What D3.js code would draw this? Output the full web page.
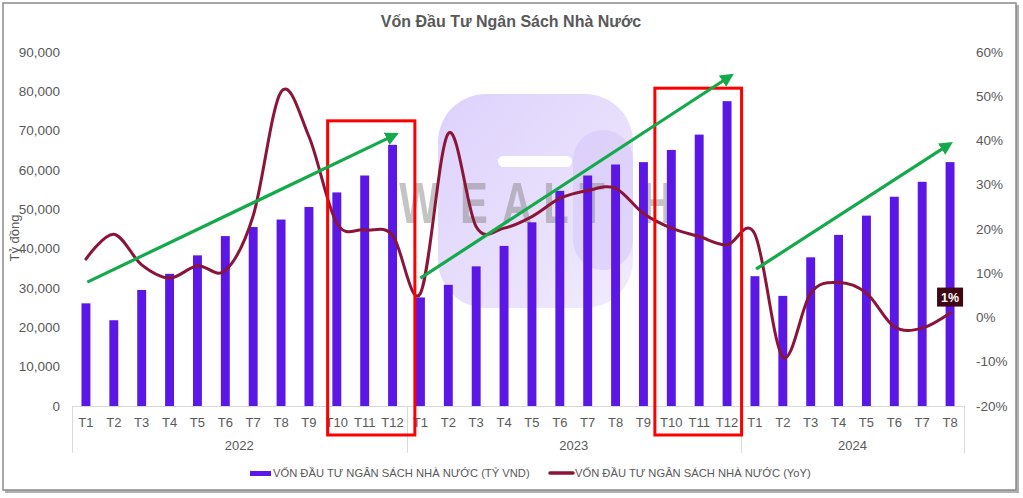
<!DOCTYPE html>
<html>
<head>
<meta charset="utf-8">
<script src="https://cdn.jsdelivr.net/npm/d3@7"></script>
<style>
  html, body { margin: 0; padding: 0; background: #fff; }
  svg { display: block; font-family: "Liberation Sans", Arial, sans-serif; }
</style>
</head>
<body>
<svg id="chart" width="1023" height="498"></svg>
<script>
// ---------- DATA ----------
const years = ["2022", "2023", "2024"];
const months = [
  "T1","T2","T3","T4","T5","T6","T7","T8","T9","T10","T11","T12",
  "T1","T2","T3","T4","T5","T6","T7","T8","T9","T10","T11","T12",
  "T1","T2","T3","T4","T5","T6","T7","T8"
];
const yearOfMonth = [
  0,0,0,0,0,0,0,0,0,0,0,0,
  1,1,1,1,1,1,1,1,1,1,1,1,
  2,2,2,2,2,2,2,2
];
// Vốn đầu tư NSNN (tỷ VND)
const capital = [
  26100, 21800, 29500, 33600, 38300, 43200, 45500, 47400, 50600, 54300, 58600, 66400,
  27600, 30800, 35500, 40700, 46700, 54700, 58600, 61400, 62000, 65100, 69000, 77500,
  33000, 28000, 37800, 43500, 48400, 53200, 57000, 62000
];
// YoY (%)
const yoy = [
  13.2, 18.8, 11.9, 8.9, 11.7, 10.6, 23.0, 51.0, 40.9, 21.3, 19.8, 18.6,
  5.5, 41.6, 20.5, 20.2, 22.8, 26.9, 28.7, 29.2, 23.5, 20.2, 18.3, 16.4,
  18.8, -8.9, 5.5, 7.9, 5.5, -2.1, -2.4, 1.0
];
const leftTicks = [0, 10000, 20000, 30000, 40000, 50000, 60000, 70000, 80000, 90000];
const rightTicks = [-20, -10, 0, 10, 20, 30, 40, 50, 60];
const title = "Vốn Đầu Tư Ngân Sách Nhà Nước";
const leftAxisTitle = "Tỷ đồng";
const legendLabels = ["VỐN ĐẦU TƯ NGÂN SÁCH NHÀ NƯỚC (TỶ VND)", "VỐN ĐẦU TƯ NGÂN SÁCH NHÀ NƯỚC (YoY)"];
// Annotations (in fractional category index / left-axis value units)
const arrows = [
  { x0: 0.05, v0: 31500, x1: 11.05, v1: 68800 },
  { x0: 12.0, v0: 32500, x1: 23.08, v1: 83700 },
  { x0: 24.04, v0: 34800, x1: 30.94, v1: 66400 }
];
const boxes = [
  { x0: 8.67, x1: 11.80, vTop: 72500 },
  { x0: 20.41, x1: 23.52, vTop: 80800 }
];

// ---------- STYLE ----------
const C_BAR = "#5b17e6";
const C_LINE = "#8b1538";
const C_GREEN = "#14a94b";
const C_TEXT = "#595959";

const svg = d3.select("#chart");
const plot = { left: 72, right: 964, top: 52, bottom: 406 };

// frame with shadow
svg.append("rect").attr("x", 5).attr("y", 5).attr("width", 1014).attr("height", 488)
  .attr("fill", "#b0b0b0");
svg.append("rect").attr("x", 3).attr("y", 3).attr("width", 1013).attr("height", 487)
  .attr("fill", "#fff").attr("stroke", "#8a8a8a").attr("stroke-width", 1.5);

// scales
const x = d3.scaleBand().domain(d3.range(months.length))
  .range([plot.left, plot.right]).paddingInner(0.68).paddingOuter(0.34);
const step = x.step();
const xc = i => x(Math.floor(i)) + x.bandwidth() / 2 + (i - Math.floor(i)) * step;
const yL = d3.scaleLinear().domain([0, 90000]).range([plot.bottom, plot.top]);
const yR = d3.scaleLinear().domain([-20, 60]).range([plot.bottom, plot.top]);

// title
svg.append("text").attr("x", 511).attr("y", 27).attr("text-anchor", "middle")
  .attr("font-size", 16).attr("font-weight", "bold").attr("fill", C_TEXT).text(title);

// watermark (logo + WEALTH)
const defs = svg.append("defs");
const wm = svg.append("g").attr("class", "watermark");
const grad = defs.append("linearGradient").attr("id", "wmg")
  .attr("x1", "0").attr("y1", "0").attr("x2", "1").attr("y2", "1");
grad.append("stop").attr("offset", "0").attr("stop-color", "#ddd1fb");
grad.append("stop").attr("offset", "1").attr("stop-color", "#f1ebfe");
wm.append("rect").attr("x", 438).attr("y", 94).attr("width", 195).attr("height", 214)
  .attr("rx", 48).attr("fill", "url(#wmg)");
wm.append("rect").attr("x", 573).attr("y", 130).attr("width", 60).attr("height", 140)
  .attr("rx", 30).attr("fill", "#d6c8f9").attr("opacity", 0.6);
wm.append("rect").attr("x", 498).attr("y", 156).attr("width", 74).attr("height", 11)
  .attr("rx", 5.5).attr("fill", "#fff");
const wmLetters = ["W", "E", "A", "L", "T", "H"];
const wmCenters = [419, 474, 517, 556, 592, 657];
wmLetters.forEach((ch, k) => {
  wm.append("text").attr("transform", `translate(${wmCenters[k]},223) scale(0.72,1)`)
    .attr("text-anchor", "middle").attr("font-size", 58).attr("font-weight", "bold")
    .attr("fill", "#8a8a8a").attr("opacity", 0.5).text(ch);
});

// left axis labels
svg.append("g").selectAll("text").data(leftTicks).join("text")
  .attr("x", 60).attr("y", d => yL(d)).attr("dy", "0.35em").attr("text-anchor", "end")
  .attr("font-size", 13.5).attr("fill", C_TEXT).text(d => d3.format(",")(d));
// right axis labels
svg.append("g").selectAll("text").data(rightTicks).join("text")
  .attr("x", 976).attr("y", d => yR(d)).attr("dy", "0.35em").attr("text-anchor", "start")
  .attr("font-size", 13.5).attr("fill", C_TEXT).text(d => d + "%");
// left axis title
svg.append("text").attr("transform", "translate(19,238) rotate(-90)")
  .attr("text-anchor", "middle").attr("font-size", 13).attr("fill", C_TEXT).text(leftAxisTitle);

// x axis line and group separators
svg.append("line").attr("x1", plot.left).attr("x2", plot.right)
  .attr("y1", plot.bottom + 0.5).attr("y2", plot.bottom + 0.5).attr("stroke", "#d9d9d9");
const sepIdx = [0];
yearOfMonth.forEach((yv, i) => { if (i > 0 && yv !== yearOfMonth[i - 1]) sepIdx.push(i); });
sepIdx.push(months.length);
svg.append("g").selectAll("line").data(sepIdx).join("line")
  .attr("x1", d => Math.round(plot.left + d * step) + 0.5)
  .attr("x2", d => Math.round(plot.left + d * step) + 0.5)
  .attr("y1", plot.bottom).attr("y2", 453).attr("stroke", "#d9d9d9");
// month labels
svg.append("g").selectAll("text").data(months).join("text")
  .attr("x", (d, i) => xc(i)).attr("y", 426.5).attr("text-anchor", "middle")
  .attr("font-size", 13).attr("fill", C_TEXT).text(d => d);
// year labels
svg.append("g").selectAll("text").data(years).join("text")
  .attr("x", (d, k) => {
    const idx = d3.range(months.length).filter(i => yearOfMonth[i] === k);
    return (xc(idx[0]) + xc(idx[idx.length - 1])) / 2;
  })
  .attr("y", 450).attr("text-anchor", "middle")
  .attr("font-size", 13).attr("fill", C_TEXT).text(d => d);

// bars
svg.append("g").selectAll("rect").data(capital).join("rect")
  .attr("x", (d, i) => x(i)).attr("width", x.bandwidth())
  .attr("y", d => yL(d)).attr("height", d => yL(0) - yL(d)).attr("fill", C_BAR);

// YoY line
const line = d3.line().x((d, i) => xc(i)).y(d => yR(d)).curve(d3.curveCatmullRom.alpha(0));
svg.append("path").datum(yoy).attr("d", line).attr("fill", "none")
  .attr("stroke", C_LINE).attr("stroke-width", 3).attr("stroke-linecap", "round");

// red boxes
svg.append("g").selectAll("rect").data(boxes).join("rect")
  .attr("x", d => xc(d.x0))
  .attr("width", d => xc(d.x1) - xc(d.x0))
  .attr("y", d => yL(d.vTop)).attr("height", d => 435 - yL(d.vTop))
  .attr("fill", "none").attr("stroke", "#ff0000").attr("stroke-width", 3);

// green arrows
defs.append("marker").attr("id", "ah").attr("viewBox", "0 0 10 10")
  .attr("refX", 6).attr("refY", 5).attr("markerWidth", 4.2).attr("markerHeight", 4.2)
  .attr("orient", "auto").attr("markerUnits", "strokeWidth")
  .append("path").attr("d", "M0,0 L10,5 L0,10 z").attr("fill", C_GREEN);
svg.append("g").selectAll("line").data(arrows).join("line")
  .attr("x1", d => xc(d.x0)).attr("y1", d => yL(d.v0))
  .attr("x2", d => xc(d.x1)).attr("y2", d => yL(d.v1))
  .attr("stroke", C_GREEN).attr("stroke-width", 3.2).attr("marker-end", "url(#ah)");

// last value label
const li = yoy.length - 1;
const lbl = svg.append("g").attr("transform", `translate(${xc(li)},${yR(yoy[li]) - 16})`);
lbl.append("rect").attr("x", -13).attr("y", -9.5).attr("width", 26).attr("height", 19)
  .attr("fill", "#3f0713");
lbl.append("text").attr("text-anchor", "middle").attr("dy", "0.36em")
  .attr("font-size", 12.5).attr("font-weight", "bold").attr("fill", "#fff")
  .text(Math.round(yoy[li]) + "%");

// legend
const lg = svg.append("g");
lg.append("rect").attr("x", 250).attr("y", 471).attr("width", 21).attr("height", 5).attr("fill", C_BAR);
lg.append("text").attr("x", 273).attr("y", 473).attr("dy", "0.35em").attr("font-size", 11.2)
  .attr("fill", C_TEXT).text(legendLabels[0]);
lg.append("line").attr("x1", 550).attr("x2", 573).attr("y1", 473).attr("y2", 473)
  .attr("stroke", C_LINE).attr("stroke-width", 3.5).attr("stroke-linecap", "round");
lg.append("text").attr("x", 575).attr("y", 473).attr("dy", "0.35em").attr("font-size", 11.2)
  .attr("fill", C_TEXT).text(legendLabels[1]);
</script>
</body>
</html>
